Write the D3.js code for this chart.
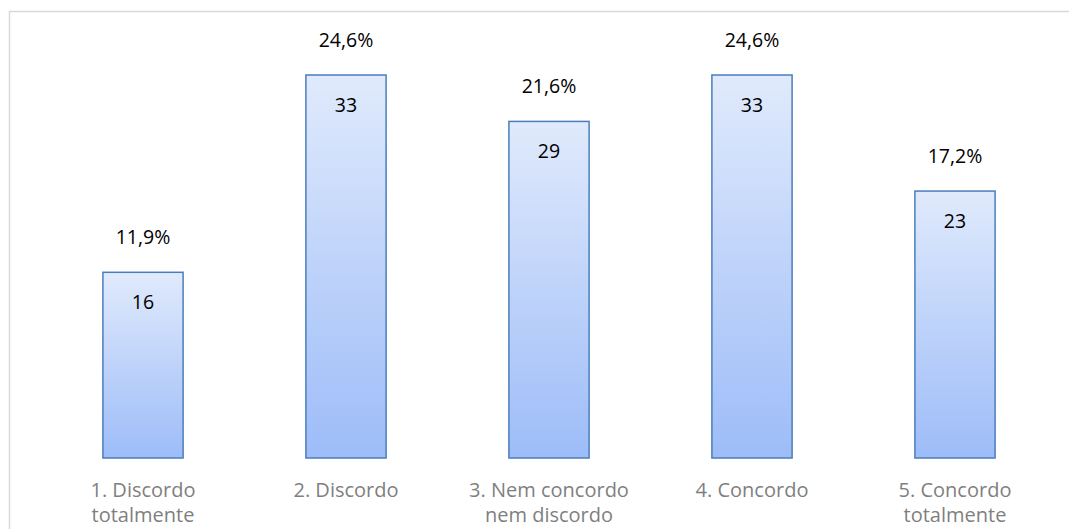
<!DOCTYPE html>
<html><head><meta charset="utf-8">
<script src="https://cdn.jsdelivr.net/npm/d3@7"></script>
<style>body{margin:0;background:#fff}svg{display:block}</style>
</head><body>
<script>
const categories = [["1. Discordo","totalmente"],["2. Discordo"],["3. Nem concordo","nem discordo"],["4. Concordo"],["5. Concordo","totalmente"]];
const values = [16, 33, 29, 33, 23];
const percents = ["11,9%","24,6%","21,6%","24,6%","17,2%"];

const W = 1070, H = 529;
const svg = d3.select("body").append("svg").attr("width", W).attr("height", H);
const defs = svg.append("defs");
const g = defs.append("linearGradient").attr("id","gr").attr("x1",0).attr("y1",0).attr("x2",0).attr("y2",1);
g.append("stop").attr("offset","0%").attr("stop-color","#e0eafc");
g.append("stop").attr("offset","100%").attr("stop-color","#9dbcf8");

// chart frame
svg.append("path").attr("d","M9.5,529 V11.5 H1069").attr("fill","none").attr("stroke","#d9d9d9").attr("stroke-width",1.5);

const x = d3.scaleBand().domain(d3.range(values.length)).range([41.5, 1056.5]).paddingInner(0.6).paddingOuter(0.3);
const y = d3.scaleLinear().domain([0, 33]).range([458, 75]);
const font = "'Open Sans', 'Liberation Sans', sans-serif";
const fs = 19.5;

svg.selectAll("rect.bar").data(values).join("rect").attr("class","bar")
  .attr("x",(d,i)=>x(i)+0.5).attr("width",x.bandwidth()-1)
  .attr("y",d=>y(d)).attr("height",d=>y(0)-y(d))
  .attr("fill","url(#gr)").attr("stroke","#4a7ebb").attr("stroke-width",1.5);

svg.selectAll("text.val").data(values).join("text").attr("class","val")
  .attr("x",(d,i)=>x(i)+x.bandwidth()/2).attr("y",d=>y(d)+37)
  .attr("text-anchor","middle").attr("font-family",font).attr("font-size",fs).attr("fill","#000")
  .text(d=>d);

svg.selectAll("text.pct").data(values).join("text").attr("class","pct")
  .attr("x",(d,i)=>x(i)+x.bandwidth()/2).attr("y",d=>y(d)-28)
  .attr("text-anchor","middle").attr("font-family",font).attr("font-size",fs).attr("fill","#000")
  .text((d,i)=>percents[i]);

const cat = svg.selectAll("text.cat").data(categories).join("text").attr("class","cat")
  .attr("x",(d,i)=>x(i)+x.bandwidth()/2).attr("y",497)
  .attr("text-anchor","middle").attr("font-family",font).attr("font-size",20).attr("fill","#7f7f7f");
cat.selectAll("tspan").data(d=>d).join("tspan")
  .attr("x",function(){return this.parentNode.getAttribute("x");})
  .attr("dy",(d,i)=>i===0?0:25).text(d=>d);
</script>
</body></html>
